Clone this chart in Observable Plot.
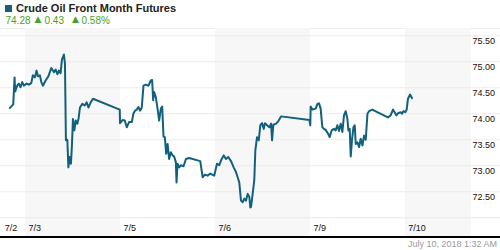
<!DOCTYPE html>
<html>
<head>
<meta charset="utf-8">
<script src="https://cdn.jsdelivr.net/npm/d3@7"></script>
<script src="https://cdn.jsdelivr.net/npm/@observablehq/plot@0.6"></script>
<style>
  html, body { margin: 0; padding: 0; background: #fff; }
  body { width: 500px; height: 250px; overflow: hidden; font-family: "Liberation Sans", Arial, sans-serif; }
  #hdr { position: relative; height: 28px; border-bottom: 1px solid #ececec; box-sizing: content-box; }
  #sq { position: absolute; left: 5px; top: 5px; width: 7px; height: 7px; background: #15617a; }
  #title { position: absolute; left: 16px; top: 2px; font-weight: bold; font-size: 11px; color: #222; white-space: nowrap; }
  .g { position: absolute; top: 15px; font-size: 10px; color: #46a22a; white-space: nowrap; }
  .tri { font-size: 9px; top: 14px; font-family: "DejaVu Sans", sans-serif; }
  #chart { position: relative; margin-top: -1px; }
  #foot { border-top: 2px solid #000; height: 12px; position: relative; overflow: hidden; }
  #stamp { position: absolute; left: 408px; top: 1px; font-size: 9px; color: #999; white-space: nowrap; }
</style>
</head>
<body>
<div id="hdr">
  <div id="sq"></div>
  <div id="title">Crude Oil Front Month Futures</div>
  <span class="g" style="left:5.5px">74.28</span>
  <span class="g tri" style="left:34.5px">▲</span>
  <span class="g" style="left:44.5px">0.43</span>
  <span class="g tri" style="left:72px">▲</span>
  <span class="g" style="left:81.5px">0.58%</span>
</div>
<div id="chart"></div>
<div id="foot"><span id="stamp">July 10, 2018 1:32 AM</span></div>
<script>
// Session position (1 = start of 7/3 session, each trading session = 1 unit)
const sessionPos = [
  0.834,0.870,0.884,0.891,0.912,0.929,0.947,0.965,0.982,1.011,1.035,1.060,1.077,1.098,1.116,1.130,1.151,1.166,1.183,1.211,
  1.240,1.271,1.299,1.317,1.335,1.351,1.369,1.383,1.404,1.415,1.425,1.440,1.451,1.464,1.478,1.489,1.499,1.514,1.528,1.546,
  1.559,1.573,1.598,1.623,1.644,1.662,1.686,1.710,1.992,1.995,2.021,2.045,2.066,2.090,2.119,2.137,2.154,2.171,2.189,2.206,
  2.224,2.242,2.266,2.295,2.319,2.333,2.344,2.354,2.372,2.390,2.407,2.425,2.439,2.453,2.467,2.481,2.496,2.512,2.530,2.548,
  2.565,2.583,2.590,2.601,2.618,2.636,2.664,2.689,2.723,2.840,2.865,2.889,2.918,2.945,2.987,3.016,3.040,3.058,3.087,3.111,
  3.135,3.164,3.192,3.216,3.234,3.251,3.269,3.287,3.304,3.322,3.340,3.357,3.367,3.375,3.392,3.409,3.420,3.438,3.456,3.473,
  3.491,3.509,3.522,3.544,3.568,3.586,3.596,3.610,3.639,3.663,3.691,3.990,3.999,4.003,4.021,4.056,4.074,4.091,4.108,4.126,
  4.143,4.161,4.185,4.203,4.224,4.248,4.266,4.284,4.301,4.319,4.337,4.354,4.372,4.390,4.400,4.414,4.425,4.438,4.453,4.467,
  4.478,4.496,4.513,4.530,4.548,4.565,4.583,4.601,4.618,4.654,4.683,4.817,4.845,4.870,4.887,4.905,4.923,4.950,4.965,4.979,
  5.000,5.014,5.028,5.050,5.071
];
const price = [
  74.11,74.18,74.70,74.43,74.54,74.58,74.51,74.61,74.54,74.58,74.56,74.59,74.74,74.70,74.83,74.72,74.74,74.61,74.54,74.64,
  74.72,74.88,74.80,74.85,74.76,74.83,74.78,75.04,75.14,74.96,73.49,73.50,72.97,73.17,73.04,73.42,73.90,73.68,73.87,73.81,
  73.92,74.12,74.19,74.16,74.22,74.12,74.22,74.29,74.08,73.82,73.88,73.87,73.74,73.84,73.84,74.01,74.06,74.08,74.13,74.06,
  74.12,74.54,74.56,74.54,74.64,74.65,74.26,74.42,74.32,74.10,73.87,74.10,74.14,73.56,73.55,73.23,73.42,73.13,73.26,73.20,
  73.18,73.07,72.68,73.04,72.97,73.01,72.99,73.13,73.15,73.09,72.78,72.83,72.81,72.85,72.81,73.04,73.01,73.10,73.20,73.13,
  73.17,73.09,72.97,72.88,72.78,72.68,72.33,72.30,72.37,72.33,72.46,72.40,72.20,72.21,72.46,72.72,73.29,73.55,73.49,73.78,
  73.82,73.71,73.82,73.78,73.74,73.81,73.49,73.79,73.81,73.86,73.95,73.88,73.78,74.14,74.08,74.10,74.19,74.20,74.10,73.74,
  73.71,73.69,73.62,73.55,73.68,73.71,73.68,73.78,73.67,73.81,73.65,73.97,74.05,73.90,73.68,73.71,73.18,73.49,73.74,73.78,
  73.42,73.45,73.36,73.52,73.39,73.58,73.50,74.00,74.05,74.08,74.05,73.93,73.97,74.08,74.03,73.97,74.01,74.03,74.00,74.05,
  74.03,74.08,74.29,74.37,74.30
];

// Sessions (shaded alternately)
const sessionStart = [1, 2, 3, 4, 5];
const sessionEnd   = [2, 3, 4, 5, 5.697];
const sessionShaded = [true, false, true, false, true];

// Axis ticks
const xTickPos = [0.75, 1, 2, 3, 4, 5];
const xTickLabels = ["7/2", "7/3", "7/5", "7/6", "7/9", "7/10"];
const yGrid = [72.0, 72.5, 73.0, 73.5, 74.0, 74.5, 75.0, 75.5];
const yLabels = [72.5, 73.0, 73.5, 74.0, 74.5, 75.0, 75.5];

const xDomain = [0.736, 5.697];
const yDomain = [71.64, 75.64];

const series = sessionPos.map((t, i) => ({ t, p: price[i] }));
const bands = sessionStart.map((s, i) => ({ x1: s, x2: sessionEnd[i], shaded: sessionShaded[i] })).filter(d => d.shaded);
const xticks = xTickPos.map((t, i) => ({ t, label: xTickLabels[i] }));

const chart = Plot.plot({
  width: 500,
  height: 208,
  marginTop: 0,
  marginBottom: 0,
  marginLeft: 0,
  marginRight: 29,
  style: { fontFamily: "'Liberation Sans', Arial, sans-serif", fontSize: "9px", background: "transparent", overflow: "visible" },
  x: { domain: xDomain, axis: null },
  y: { domain: yDomain, axis: null },
  marks: [
    Plot.rect(bands, { x1: "x1", x2: "x2", fill: "#f7f7f7" }),
    Plot.ruleY(yGrid, { stroke: "#ebebeb", strokeWidth: 1, insetRight: -29 }),
    Plot.axisY(yLabels, { anchor: "right", label: null, tickSize: 0, tickPadding: 1, dy: 5.5, tickFormat: d3.format(".2f"), fill: "#111", fontSize: 9 }),
    Plot.line(series, { x: "t", y: "p", stroke: "#11617c", strokeWidth: 2, strokeLinejoin: "round" }),
    Plot.text(xticks, { x: "t", text: "label", frameAnchor: "bottom", textAnchor: "start", lineAnchor: "middle", dx: 3, dy: -8.5, fill: "#111", fontSize: 9 })
  ]
});
document.getElementById("chart").appendChild(chart);
</script>
</body>
</html>
